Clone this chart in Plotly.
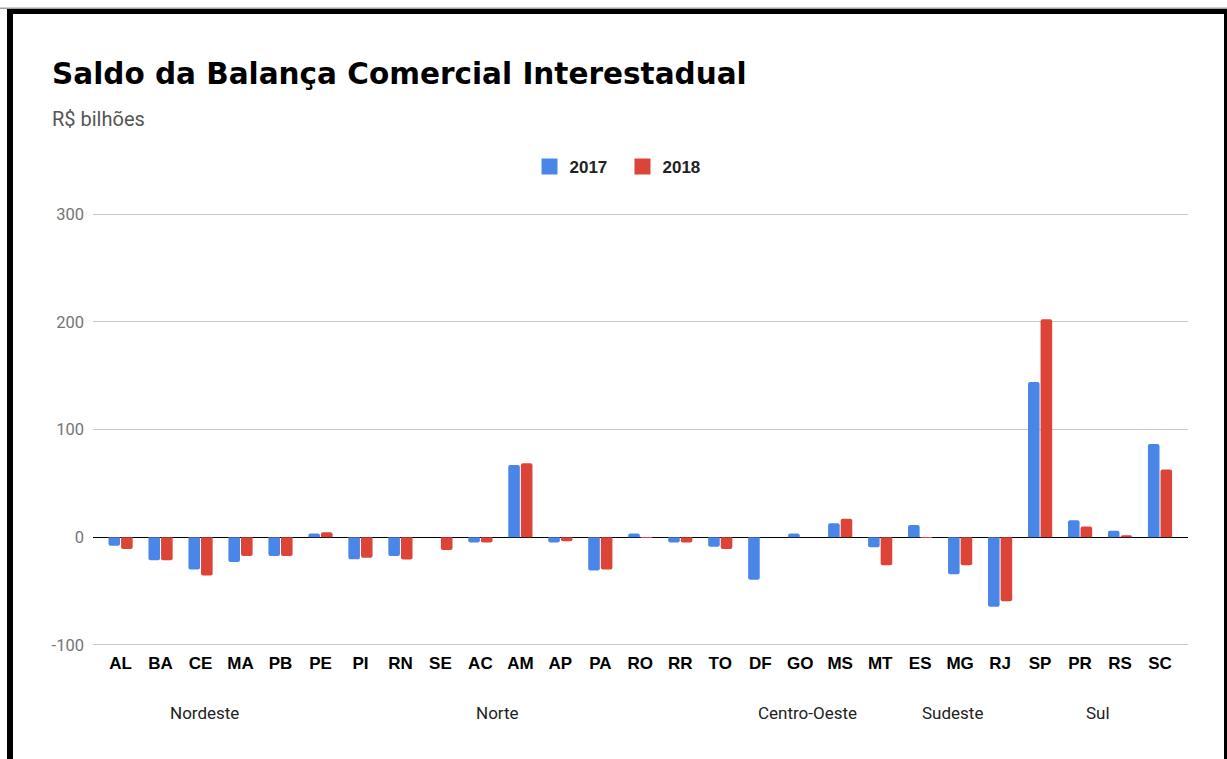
import plotly.graph_objects as go

# ---- data ----
states = ["AL", "BA", "CE", "MA", "PB", "PE", "PI", "RN", "SE",
          "AC", "AM", "AP", "PA", "RO", "RR", "TO",
          "DF", "GO", "MS", "MT",
          "ES", "MG", "RJ", "SP",
          "PR", "RS", "SC"]
v2017 = [-8, -21.5, -30, -23, -17.5, 3.4, -20.4, -17.5, 0,
         -5, 67, -5, -31, 3.4, -5, -9,
         -39.5, 3.4, 13, -9.3,
         11.4, -34.4, -64.7, 144,
         15.8, 5.9, 86.6]
v2018 = [-11, -21.5, -35.5, -17.5, -17.5, 4.6, -19.2, -20.7, -12,
         -5, 68.7, -3.7, -30, -0.5, -5, -11,
         0, 0, 17, -26,
         -0.5, -26, -59.4, 202.4,
         10, 1.9, 62.9]
regions = ["Nordeste", "Norte", "Centro-Oeste", "Sudeste", "Sul"]
region_pos = [2.09, 9.44, 17.19, 20.81, 24.44]
y_ticks = [-100, 0, 100, 200, 300]
y_ticktext = ["-100", "0", "100", "200", "300"]
series_names = ["2017", "2018"]

# ---- layout constants ----
W, H = 1227, 759
ML, MR, MT, MB = 93, 39, 212, 112
PW, PH = W - ML - MR, H - MT - MB


def px_x(p):
    return (p - ML) / PW


def px_y(p):
    return (H - MB - p) / PH


BLUE = "#4A86E8"
RED = "#DB4437"
colors = [BLUE, RED]

fig = go.Figure()
for name, vals, col in zip(series_names, [v2017, v2018], colors):
    fig.add_trace(go.Bar(x=states, y=vals, name=name, marker_color=col,
                         marker_line_width=0, showlegend=False, legendgroup=name))
# legend entries with larger square swatches
for name, col in zip(series_names, colors):
    fig.add_trace(go.Scatter(x=[None], y=[None], mode="markers", name=name,
                             legendgroup=name,
                             marker=dict(symbol="square", size=16, color=col),
                             showlegend=True))

annotations = [
    dict(text="Saldo da Balança Comercial Interestadual", xref="paper", yref="paper",
         x=px_x(50), y=px_y(74), xanchor="left", yanchor="middle", showarrow=False,
         font=dict(family="DejaVu Sans", size=29.5, color="#000000", weight="bold")),
    dict(text="R$ bilhões", xref="paper", yref="paper",
         x=px_x(50), y=px_y(119), xanchor="left", yanchor="middle", showarrow=False,
         font=dict(family="Roboto", size=20, color="#555555")),
]
for name, pos in zip(regions, region_pos):
    annotations.append(dict(text=name, xref="x", yref="paper", x=pos, y=px_y(713),
                            xanchor="center", yanchor="middle", showarrow=False,
                            font=dict(family="Roboto", size=17, color="#222222")))

shapes = [
    # frame around the picture
    dict(type="rect", xref="paper", yref="paper", x0=px_x(7), x1=px_x(13),
         y0=px_y(H + 5), y1=px_y(9), fillcolor="#000000", line_width=0, layer="above"),
    dict(type="rect", xref="paper", yref="paper", x0=px_x(7), x1=px_x(1227),
         y0=px_y(14), y1=px_y(9), fillcolor="#000000", line_width=0, layer="above"),
    dict(type="rect", xref="paper", yref="paper", x0=px_x(1224), x1=px_x(1230),
         y0=px_y(H + 5), y1=px_y(9), fillcolor="#000000", line_width=0, layer="above"),
    dict(type="rect", xref="paper", yref="paper", x0=px_x(0), x1=px_x(1230),
         y0=px_y(9), y1=px_y(7.6), fillcolor="#A0A0A0", line_width=0, layer="above"),
]

fig.update_layout(
    width=W, height=H,
    margin=dict(l=ML, r=MR, t=MT, b=MB, pad=0),
    paper_bgcolor="#FFFFFF", plot_bgcolor="#FFFFFF",
    barmode="group", bargap=0.37, bargroupgap=0.08, barcornerradius=2,
    showlegend=True,
    legend=dict(orientation="h", x=px_x(622.5), xanchor="center", y=px_y(167),
                yanchor="middle", itemsizing="trace", entrywidth=48,
                font=dict(family="Liberation Sans", size=17,
                          color="#222222", weight="bold"),
                bgcolor="rgba(0,0,0,0)"),
    annotations=annotations,
    shapes=shapes,
    xaxis=dict(type="category", range=[-0.69, 26.7], showgrid=False, showline=False,
               ticks="", tickfont=dict(family="Liberation Sans", size=17,
                                        color="#000000", weight="bold"),
               ticklabelstandoff=4, fixedrange=True),
    yaxis=dict(range=[-102, 302], tickvals=y_ticks, ticktext=y_ticktext,
               showgrid=True, gridcolor="#C8C8C8",
               gridwidth=1, zeroline=True, zerolinecolor="#000000", zerolinewidth=1.3,
               showline=False, ticks="", ticklabelstandoff=8,
               tickfont=dict(family="Roboto", size=16.5, color="#757575"), fixedrange=True),
)

fig.write_html("out.html")
